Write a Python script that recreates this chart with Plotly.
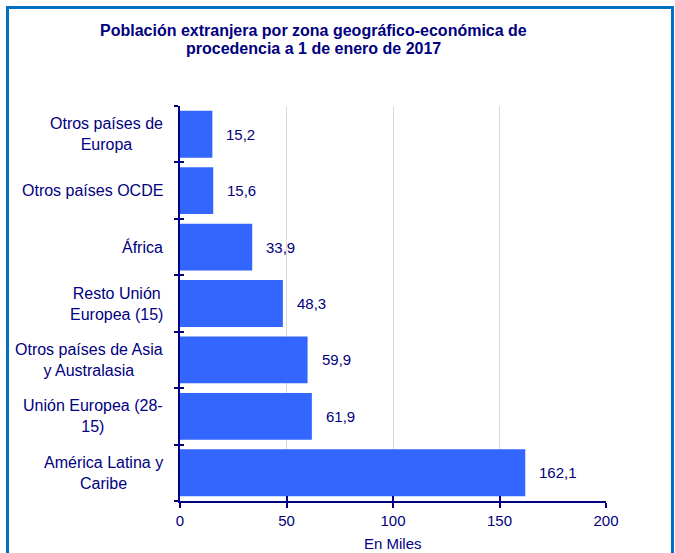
import plotly.graph_objects as go

title_lines = ["Población extranjera por zona geográfico-económica de",
               "procedencia a 1 de enero de 2017"]
categories = [
    "Otros países de<br>Europa",
    "Otros países OCDE",
    "África",
    "Resto Unión<br>Europea (15)",
    "Otros países de Asia<br>y Australasia",
    "Unión Europea (28-<br>15)",
    "América Latina y<br>Caribe",
]
values = [15.2, 15.6, 33.9, 48.3, 59.9, 61.9, 162.1]
x_ticks = [0, 50, 100, 150, 200]
x_title = "En Miles"

W, H = 675, 553
ML, MR, MT, MB = 180, 69, 106, 52
PW, PH = W - ML - MR, H - MT - MB

NAVY = "#000080"
BAR = "#3366FF"
FONT = "Liberation Sans, Arial, sans-serif"


def px_x(p):
    return (p - ML) / PW


def px_y(p):
    return (H - MB - p) / PH


n = len(categories)
fig = go.Figure()
fig.add_trace(go.Bar(
    x=values, y=list(range(n)), orientation="h",
    marker=dict(color=BAR, line=dict(width=0)),
    hoverinfo="skip",
))
# invisible trace carrying the overlay axes (inner half of crossing ticks)
fig.add_trace(go.Scatter(x=[None], y=[None], xaxis="x2", yaxis="y2",
                         mode="markers", showlegend=False, hoverinfo="skip"))

annotations = []
for i, (c, v) in enumerate(zip(categories, values)):
    annotations.append(dict(
        x=v, y=i, xref="x", yref="y", text=f"{v:.1f}".replace(".", ","),
        showarrow=False, xanchor="left", xshift=12,
        font=dict(family=FONT, size=15, color=NAVY),
    ))
    annotations.append(dict(
        x=px_x(165), y=i, xref="paper", yref="y", text=c,
        showarrow=False, xanchor="right", align="center",
        font=dict(family=FONT, size=16, color=NAVY),
    ))
for line, ypx in zip(title_lines, [30, 48.5]):
    annotations.append(dict(
        x=px_x(313), y=px_y(ypx), xref="paper", yref="paper", text=f"<b>{line}</b>",
        showarrow=False, xanchor="center", yanchor="middle",
        font=dict(family=FONT, size=16, color=NAVY),
    ))
annotations.append(dict(
    x=0.5, y=px_y(543.5), xref="paper", yref="paper", text=x_title,
    showarrow=False, xanchor="center", yanchor="middle",
    font=dict(family=FONT, size=15, color=NAVY),
))

fig.update_layout(
    width=W, height=H,
    margin=dict(l=ML, r=MR, t=MT, b=MB, autoexpand=False),
    paper_bgcolor="white", plot_bgcolor="white",
    showlegend=False,
    bargap=0.17,
    xaxis=dict(range=[0, 200], tickvals=x_ticks, ticktext=[str(t) for t in x_ticks],
               showgrid=True, gridcolor="#D9D9D9", gridwidth=1,
               showline=True, linecolor=NAVY, linewidth=2,
               ticks="outside", ticklen=5, tickwidth=2, tickcolor=NAVY,
               tickfont=dict(family=FONT, size=15, color=NAVY),
               automargin=False,
               zeroline=False, fixedrange=True),
    yaxis=dict(range=[n - 0.5, -0.5],
               tickvals=[i - 0.5 for i in range(n + 1)],
               showticklabels=False,
               showgrid=False, zeroline=False,
               showline=True, linecolor=NAVY, linewidth=2,
               ticks="outside", ticklen=4, tickwidth=2, tickcolor=NAVY,
               automargin=False,
               fixedrange=True),
    xaxis2=dict(overlaying="x", anchor="y2", side="bottom", range=[0, 200],
                tickvals=x_ticks, showticklabels=False, showgrid=False, zeroline=False,
                showline=False, ticks="inside", ticklen=5, tickwidth=2, tickcolor=NAVY,
                automargin=False, fixedrange=True),
    yaxis2=dict(overlaying="y", anchor="x2", side="left", range=[n - 0.5, -0.5],
                tickvals=[i - 0.5 for i in range(n + 1)], showticklabels=False,
                showgrid=False, zeroline=False, showline=False,
                ticks="inside", ticklen=4, tickwidth=2, tickcolor=NAVY,
                automargin=False, fixedrange=True),
    annotations=annotations,
    shapes=[dict(type="rect", xref="paper", yref="paper",
                 x0=px_x(7.5), x1=px_x(672.5), y0=px_y(570), y1=px_y(7.5),
                 line=dict(color="#0070C0", width=3), fillcolor="rgba(0,0,0,0)",
                 layer="below")],
)

fig.write_html("out.html",
               config={"displayModeBar": False},
               post_script="document.body.style.margin='0';document.body.style.overflow='hidden';")
